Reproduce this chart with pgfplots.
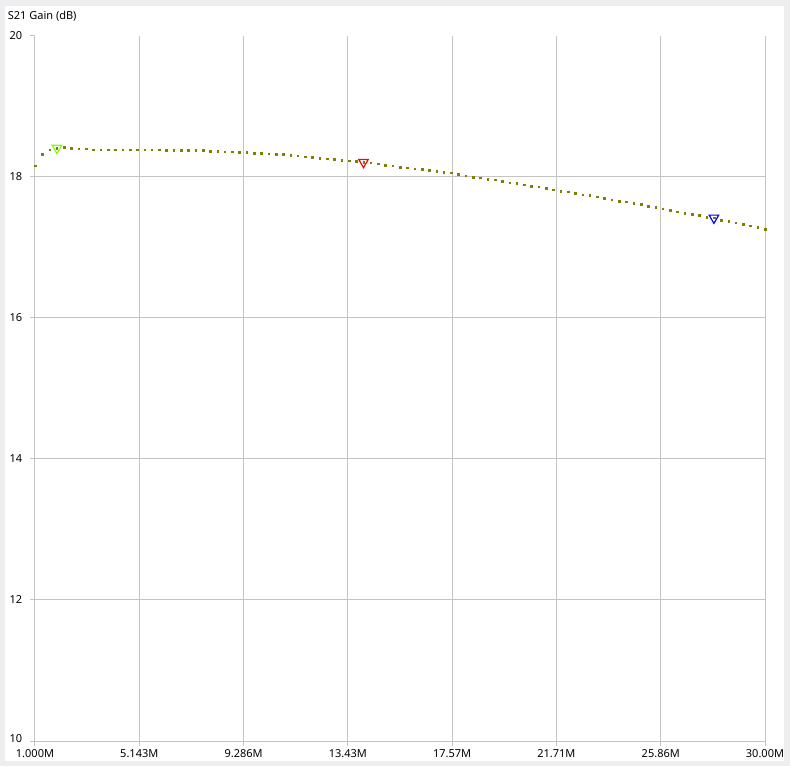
\documentclass[border=0pt]{standalone}
\usepackage{pgfplots}
\pgfplotsset{compat=1.18}
\usepackage{fontspec}
\setmainfont{Noto Sans}

\definecolor{bgout}{HTML}{EEEEF0}
\definecolor{gridc}{HTML}{C4C4C4}
\definecolor{trace}{HTML}{808000}
\definecolor{mkgreen}{HTML}{7FFF00}

\begin{document}
\fontsize{11}{13}\selectfont
\begin{tikzpicture}
% window background and white plot panel (1pt = 1px of the reference)
\fill[bgout] (-35pt,-25pt) rectangle (755pt,741pt);
\fill[white] (-30pt,-20pt) rectangle (749pt,735pt);
\begin{axis}[
    at={(0pt,0pt)}, anchor=south west,
    scale only axis, width=730pt, height=705pt,
    xmin=1, xmax=30, ymin=10, ymax=20,
    clip=false,
    axis lines=left,
    axis line style={gridc, line width=1pt, -},
    grid=major,
    major grid style={gridc, line width=1pt},
    tick style={gridc, line width=1pt},
    tick align=outside,
    major tick length=5pt,
    xtick={1,5.143,9.286,13.43,17.57,21.71,25.86,30},
    xticklabels={1.000M,5.143M,9.286M,13.43M,17.57M,21.71M,25.86M,30.00M},
    ytick={12,14,16,18},
    extra y ticks={10,20},
    extra y tick labels={\raisebox{5pt}{10},20},
    extra y tick style={grid=none},
    /pgf/number format/assume math mode=true,
    ticklabel style={font=\fontsize{11}{13}\selectfont, text=black},
    yticklabel style={xshift=-4pt},
    every axis y label/.style={at={(axis description cs:0,1)}, anchor=west,
        xshift=-31pt, yshift=20pt, font=\fontsize{11}{13}\selectfont},
    ylabel={S21 Gain (dB)},
]
% S21 trace, dotted samples
\addplot[only marks, color=trace, mark=square*, mark size=0.8pt,
    mark options={fill=trace, draw=none}] coordinates {
(1.00,18.16) (1.29,18.32) (1.58,18.39) (1.87,18.41) (2.16,18.42)
(2.45,18.41) (2.74,18.40) (3.03,18.40) (3.32,18.39) (3.61,18.39)
(3.90,18.39) (4.19,18.39) (4.48,18.39) (4.77,18.39) (5.06,18.39)
(5.35,18.39) (5.64,18.39) (5.93,18.39) (6.22,18.38) (6.51,18.38)
(6.80,18.38) (7.09,18.38) (7.38,18.38) (7.67,18.38) (7.96,18.37)
(8.25,18.37) (8.54,18.36) (8.83,18.36) (9.12,18.35) (9.41,18.35)
(9.70,18.34) (9.99,18.34) (10.28,18.33) (10.57,18.32) (10.86,18.32)
(11.15,18.31) (11.44,18.30) (11.73,18.29) (12.02,18.28) (12.31,18.27)
(12.60,18.26) (12.89,18.25) (13.18,18.24) (13.47,18.23) (13.76,18.22)
(14.05,18.21) (14.34,18.20) (14.63,18.19) (14.92,18.17) (15.21,18.16)
(15.50,18.14) (15.79,18.13) (16.08,18.12) (16.37,18.11) (16.66,18.10)
(16.95,18.08) (17.24,18.07) (17.53,18.06) (17.82,18.04) (18.11,18.02)
(18.40,18.00) (18.69,17.99) (18.98,17.97) (19.27,17.96) (19.56,17.94)
(19.85,17.92) (20.14,17.91) (20.43,17.89) (20.72,17.87) (21.01,17.86)
(21.30,17.84) (21.59,17.82) (21.88,17.80) (22.17,17.79) (22.46,17.77)
(22.75,17.75) (23.04,17.74) (23.33,17.72) (23.62,17.70) (23.91,17.68)
(24.20,17.66) (24.49,17.65) (24.78,17.63) (25.07,17.61) (25.36,17.59)
(25.65,17.57) (25.94,17.55) (26.23,17.53) (26.52,17.51) (26.81,17.49)
(27.10,17.47) (27.39,17.46) (27.68,17.43) (27.97,17.42) (28.26,17.39)
(28.55,17.37) (28.84,17.35) (29.13,17.33) (29.42,17.31) (29.71,17.29)
(30.00,17.26)
};
% markers
\addplot[only marks, mark=triangle, mark size=5.5pt, mkgreen, line width=1.2pt,
    mark options={rotate=180, fill=none}] coordinates {(1.87,18.41)};
\addplot[only marks, mark=triangle, mark size=5.5pt, red, line width=1.2pt,
    mark options={rotate=180, fill=none}] coordinates {(14.05,18.21)};
\addplot[only marks, mark=triangle, mark size=5.5pt, blue, line width=1.2pt,
    mark options={rotate=180, fill=none}] coordinates {(27.97,17.42)};
\end{axis}
\end{tikzpicture}
\end{document}
